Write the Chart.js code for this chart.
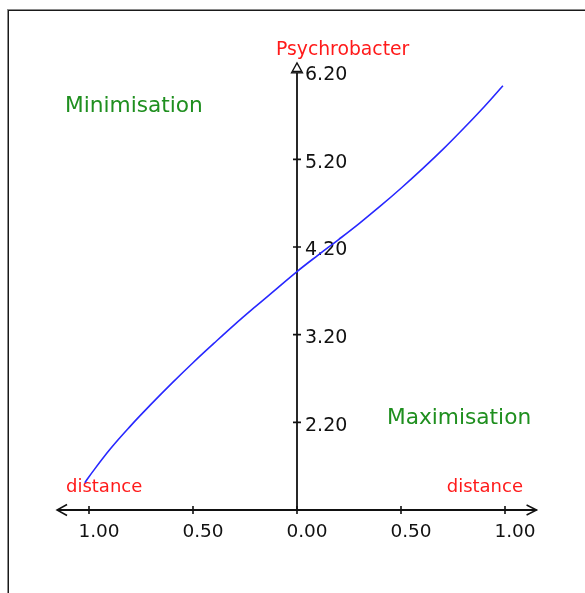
<!DOCTYPE html>
<html><head><meta charset="utf-8">
<script src="https://cdn.jsdelivr.net/npm/chart.js@4.4.1/dist/chart.umd.min.js"></script>
<style>html,body{margin:0;padding:0;background:#fff;overflow:hidden}canvas{display:block}</style>
</head><body><canvas id="c" width="585" height="593"></canvas>
<script>
// ---- data ----
const distance = [-1.02, -1.0, -0.9, -0.8, -0.7, -0.6, -0.5, -0.4, -0.3, -0.2, -0.1, 0.0, 0.1, 0.2, 0.3, 0.4, 0.5, 0.6, 0.7, 0.8, 0.9, 0.99];
const psychrobacter = [1.51, 1.58, 1.89, 2.16, 2.41, 2.65, 2.88, 3.10, 3.315, 3.52, 3.72, 3.92, 4.105, 4.285, 4.47, 4.665, 4.87, 5.085, 5.31, 5.55, 5.80, 6.04];
const xTicks = [-1.0, -0.5, 0.0, 0.5, 1.0];
const yTicks = [2.2, 3.2, 4.2, 5.2, 6.2];
const yAxisTitle = 'Psychrobacter';
const xAxisTitle = 'distance';
const regionLabels = ['Minimisation', 'Maximisation'];

// ---- layout ----
const X_MIN = -1.16, X_MAX = 1.16, Y_MIN = 1.2, Y_MAX = 6.3;
const PAD = {left: 55.72, right: 46.72, top: 62.9, bottom: 83};
const FONT = '"DejaVu Sans", Verdana, sans-serif';
const RED = '#ff1a1a', GREEN = '#1f8f1f', AXIS = '#111';

const axesPlugin = {
  id: 'crossAxes',
  beforeDraw(chart) {
    const ctx = chart.ctx;
    ctx.save();
    ctx.fillStyle = '#8a8a8a';
    ctx.fillRect(7, 9, 578, 1);
    ctx.fillRect(7, 9, 1, 584);
    ctx.fillStyle = '#1a1a1a';
    ctx.fillRect(8, 10, 577, 1);
    ctx.fillRect(8, 10, 1, 583);
    ctx.restore();
  },
  beforeDatasetsDraw(chart) {
    const ctx = chart.ctx;
    const xs = chart.scales.x, ys = chart.scales.y;
    const x0 = xs.getPixelForValue(0), y0 = ys.getPixelForValue(Y_MIN);
    const xl = xs.getPixelForValue(X_MIN) + 1.3, xr = xs.getPixelForValue(X_MAX) - 1.7;
    const yt = ys.getPixelForValue(Y_MAX);
    ctx.save();
    ctx.strokeStyle = AXIS; ctx.lineWidth = 1.8; ctx.lineCap = 'butt';
    ctx.beginPath(); ctx.moveTo(xl, y0); ctx.lineTo(xr, y0); ctx.stroke();
    ctx.lineWidth = 1.5;
    ctx.beginPath();
    ctx.moveTo(xl + 10, y0 - 5.5); ctx.lineTo(xl, y0); ctx.lineTo(xl + 10, y0 + 5.5);
    ctx.moveTo(xr - 10, y0 - 5); ctx.lineTo(xr, y0); ctx.lineTo(xr - 10, y0 + 5);
    ctx.stroke();
    ctx.lineWidth = 1.8;
    ctx.beginPath(); ctx.moveTo(x0, y0); ctx.lineTo(x0, yt + 10); ctx.stroke();
    ctx.lineWidth = 1.3;
    ctx.beginPath(); ctx.moveTo(x0, yt); ctx.lineTo(x0 - 5.5, yt + 10); ctx.lineTo(x0 + 5.5, yt + 10); ctx.closePath(); ctx.stroke();
    ctx.lineWidth = 1.6;
    ctx.beginPath();
    xTicks.forEach(v => { const p = xs.getPixelForValue(v); ctx.moveTo(p, y0 - 4); ctx.lineTo(p, y0 + 4); });
    yTicks.forEach(v => { const p = ys.getPixelForValue(v); ctx.moveTo(x0 - 4, p); ctx.lineTo(x0 + 4, p); });
    ctx.stroke();
    ctx.fillStyle = '#111';
    ctx.textBaseline = 'middle';
    ctx.font = '18.5px ' + FONT;
    ctx.textAlign = 'center';
    xTicks.forEach(v => { const p = xs.getPixelForValue(v); ctx.fillText(Math.abs(v).toFixed(2), p + 10, y0 + 22); });
    ctx.font = '19px ' + FONT;
    ctx.textAlign = 'left';
    yTicks.forEach(v => { const p = ys.getPixelForValue(v); ctx.fillText(v.toFixed(2), x0 + 8, p + 3.5); });
    ctx.fillStyle = RED;
    ctx.font = '18.8px ' + FONT;
    ctx.fillText(yAxisTitle, x0 - 21, yt - 13);
    ctx.font = '18px ' + FONT;
    ctx.fillText(xAxisTitle, xs.getPixelForValue(-1) - 23, y0 - 23);
    ctx.textAlign = 'right';
    ctx.fillText(xAxisTitle, xs.getPixelForValue(1) + 18, y0 - 23);
    ctx.fillStyle = GREEN;
    ctx.font = '21.7px ' + FONT;
    ctx.textAlign = 'left';
    ctx.fillText(regionLabels[0], 65, 106);
    ctx.fillText(regionLabels[1], 387, 418);
    ctx.restore();
  }
};

new Chart(document.getElementById('c'), {
  type: 'line',
  data: {
    datasets: [{
      data: distance.map((d, i) => ({x: d, y: psychrobacter[i]})),
      borderColor: 'rgb(40,40,255)',
      borderWidth: 1.6,
      pointRadius: 0,
      fill: false,
      tension: 0.4
    }]
  },
  options: {
    responsive: false,
    animation: false,
    layout: {padding: PAD},
    plugins: {legend: {display: false}, tooltip: {enabled: false}},
    scales: {
      x: {type: 'linear', min: X_MIN, max: X_MAX, display: false},
      y: {type: 'linear', min: Y_MIN, max: Y_MAX, display: false}
    }
  },
  plugins: [axesPlugin]
});
</script>
</body></html>
